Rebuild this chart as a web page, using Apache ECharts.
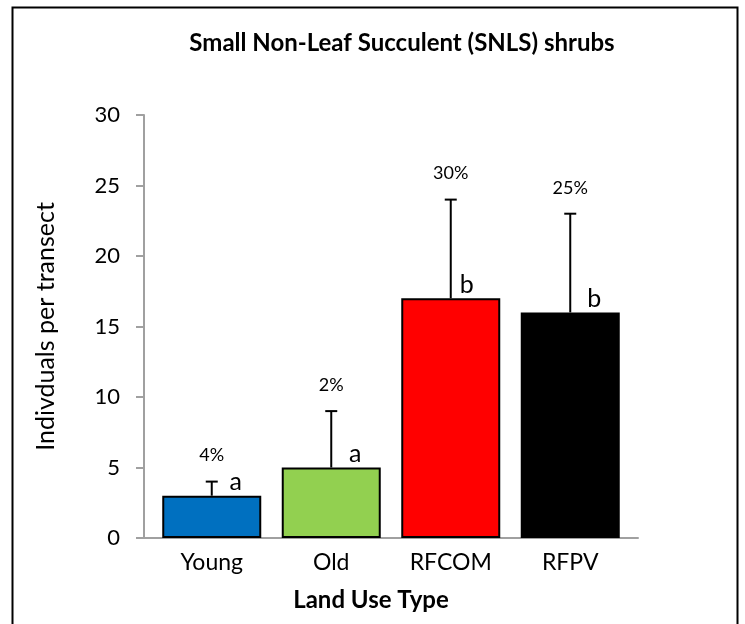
<!DOCTYPE html>
<html>
<head>
<meta charset="utf-8">
<script src="https://cdn.jsdelivr.net/npm/echarts@6/dist/echarts.min.js"></script>
<style>html,body{margin:0;padding:0;background:#fff}#c{width:745px;height:624px}</style>
</head>
<body>
<div id="c"></div>
<script>
const categories = ['Young', 'Old', 'RFCOM', 'RFPV'];
const means = [3, 5, 17, 16];
const errUpper = [4, 9, 24, 23];
const percents = ['4%', '2%', '30%', '25%'];
const letters = ['a', 'a', 'b', 'b'];
const barColors = ['#0070C0', '#92D050', '#FF0000', '#000000'];
const yTicks = [0, 5, 10, 15, 20, 25, 30];

const FONT = 'Lato, "Open Sans", sans-serif';
const chart = echarts.init(document.getElementById('c'), null, {renderer: 'canvas'});

const option = {
  animation: false,
  backgroundColor: '#fff',
  graphic: [
    {type: 'rect', shape: {x: 12.5, y: 7.5, width: 725, height: 640}, style: {fill: 'none', stroke: '#000', lineWidth: 2}, z: 100},
    {type: 'text', x: 402, y: 43, style: {text: 'Small Non-Leaf Succulent (SNLS) shrubs', font: 'bold 24px ' + FONT, fill: '#000', textAlign: 'center', textVerticalAlign: 'middle'}},
    {type: 'text', x: 371, y: 600, style: {text: 'Land Use Type', font: 'bold 24px ' + FONT, fill: '#000', textAlign: 'center', textVerticalAlign: 'middle'}}
  ],
  grid: [
    {left: 144, top: 115, width: 494, height: 423},
    {left: 152, top: 115, width: 478, height: 423}
  ],
  xAxis: [
    {type: 'category', gridIndex: 0, data: categories,
     axisLine: {show: true, lineStyle: {color: '#A0A0A0', width: 2}},
     axisTick: {show: false}, axisLabel: {show: false}, splitLine: {show: false}},
    {type: 'category', gridIndex: 1, data: categories,
     axisLine: {show: false}, axisTick: {show: false},
     axisLabel: {show: true, color: '#000', fontSize: 23, fontFamily: FONT, margin: 13}}
  ],
  yAxis: [
    {type: 'value', gridIndex: 0, min: 0, max: 30, interval: 5,
     name: 'Indivduals per transect', nameLocation: 'middle', nameGap: 86,
     nameTextStyle: {color: '#000', fontSize: 25, fontFamily: FONT},
     axisLine: {show: true, lineStyle: {color: '#A0A0A0', width: 2}},
     axisTick: {show: true, inside: false, length: 8, lineStyle: {color: '#A0A0A0', width: 2}},
     axisLabel: {color: '#000', fontSize: 22, fontFamily: FONT, margin: 24,
                 formatter: v => yTicks.includes(v) ? String(v) : ''},
     splitLine: {show: false}},
    {type: 'value', gridIndex: 1, min: 0, max: 30, interval: 5, show: false, splitLine: {show: false}}
  ],
  series: [
    {
      type: 'bar', xAxisIndex: 1, yAxisIndex: 1, barWidth: 99, z: 2,
      data: means.map((v, i) => ({
        value: v,
        itemStyle: {color: barColors[i], borderColor: '#000', borderWidth: 2},
        label: i === 2 ? {offset: [16, 0]} : undefined
      })),
      label: {
        show: true, position: 'top', distance: 1, offset: [24, 0],
        color: '#000', fontSize: 25, fontFamily: FONT,
        formatter: p => letters[p.dataIndex]
      }
    },
    {
      type: 'custom', xAxisIndex: 1, yAxisIndex: 1, z: 5,
      data: categories.map((c, i) => [i, means[i], errUpper[i]]),
      renderItem: function (params, api) {
        const i = api.value(0);
        const base = api.coord([i, api.value(1)]);
        const top = api.coord([i, api.value(2)]);
        const cap = 6;
        return {
          type: 'group',
          children: [
            {type: 'line', shape: {x1: base[0], y1: base[1], x2: top[0], y2: top[1]}, style: {stroke: '#000', lineWidth: 2}},
            {type: 'line', shape: {x1: top[0] - cap, y1: top[1], x2: top[0] + cap, y2: top[1]}, style: {stroke: '#000', lineWidth: 2}},
            {type: 'text', x: top[0], y: top[1] - 26, style: {text: percents[params.dataIndex], font: '18px ' + FONT, fill: '#000', textAlign: 'center', textVerticalAlign: 'middle'}}
          ]
        };
      }
    }
  ]
};
chart.setOption(option);
</script>
</body>
</html>
